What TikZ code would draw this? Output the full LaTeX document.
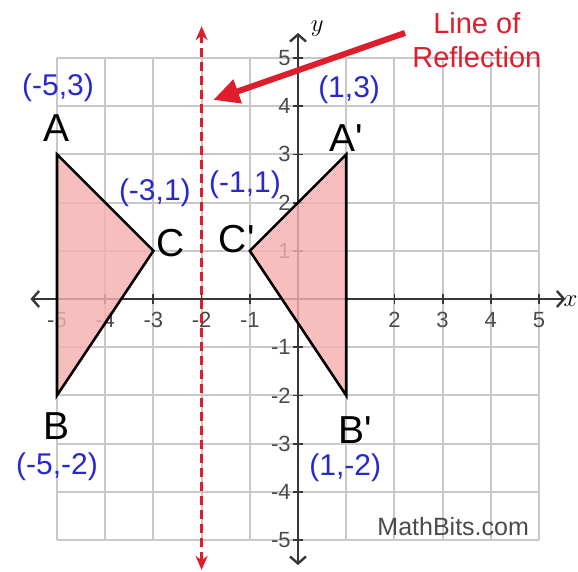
\documentclass[tikz,border=0pt]{standalone}
\usepackage{fontspec}
\setmainfont{Liberation Sans}
\usetikzlibrary{arrows.meta}
\definecolor{gridc}{RGB}{200,200,200}
\definecolor{axc}{RGB}{55,55,55}
\definecolor{ticktxt}{RGB}{75,75,75}
\definecolor{refred}{RGB}{222,30,45}
\definecolor{lblue}{RGB}{40,40,205}
\definecolor{pinkf}{RGB}{246,176,176}
\begin{document}
\begin{tikzpicture}[x=48.2pt,y=48.2pt,
  gridline/.style={gridc, line width=2pt},
  axisline/.style={axc, line width=2.4pt, {Straight Barb[length=7pt,width=16pt]}-{Straight Barb[length=7pt,width=16pt]}},
  tickmark/.style={axc, line width=1.8pt},
  ticklbl/.style={font=\fontsize{22}{22}\selectfont, text=ticktxt, inner sep=0pt},
  vlabel/.style={font=\fontsize{39}{39}\selectfont, text=black, inner sep=0pt},
  clabel/.style={font=\fontsize{30}{30}\selectfont, text=lblue, inner sep=0pt},
  triedge/.style={black, line width=2.6pt, line join=miter},
  trifill/.style={fill=pinkf, fill opacity=0.82},
  reflline/.style={refred, line width=2.6pt, dash pattern=on 9pt off 5pt, {Stealth[length=14pt,width=12pt]}-{Stealth[length=14pt,width=12pt]}},
  bigarrow/.style={refred, line width=6pt, -{Triangle[length=26pt,width=24pt]}}
]
\useasboundingbox (-298pt,-272pt) rectangle (280pt,299pt);
% grid
\draw[gridline, step={(1,1)}] (-5,-5) grid (5,5);
% tick labels
\foreach \i in {-5,-4,-3,-2,-1,2,3,4,5}
  \node[ticklbl] (xt\i) at (\i,-0.44) {\i};
\foreach \i in {-5,-4,-3,-2,-1,1,2,3,4,5}
  \node[ticklbl, anchor=east] (yt\i) at (-0.15,\i) {\i};
% axes
\coordinate (xleft) at (-5.55,0);
\coordinate (xright) at (5.55,0);
\coordinate (ybot) at (0,-5.52);
\coordinate (ytop) at (0,5.52);
\draw[axisline] (xleft) -- (xright);
\draw[axisline] (ybot) -- (ytop);
\foreach \i in {-5,...,-1,1,2,...,5} {
  \draw[tickmark] (\i,-0.1) -- (\i,0.1);
  \draw[tickmark] (-0.1,\i) -- (0.1,\i);
}
\node[font=\fontsize{30}{30}\selectfont, inner sep=0pt] (ylab) at (0.4,5.62) {$y$};
\node[font=\fontsize{30}{30}\selectfont, inner sep=0pt, anchor=east] (xlab) at (5.8,-0.05) {$x$};
% triangles
\coordinate (A) at (-5,3);
\coordinate (B) at (-5,-2);
\coordinate (C) at (-3,1);
\coordinate (Ap) at (1,3);
\coordinate (Bp) at (1,-2);
\coordinate (Cp) at (-1,1);
\fill[trifill] (A) -- (B) -- (C) -- cycle;
\fill[trifill] (Ap) -- (Bp) -- (Cp) -- cycle;
\draw[triedge] (A) -- (B) -- (C) -- cycle;
\draw[triedge] (Ap) -- (Bp) -- (Cp) -- cycle;
% line of reflection
\coordinate (rtop) at (-2,5.66);
\coordinate (rbot) at (-2,-5.62);
\draw[reflline] (rbot) -- (rtop);
\node[font=\fontsize{29}{34}\selectfont, text=refred, align=center, inner sep=0pt] (reftxt) at (3.71,5.37) {Line of\\Reflection};
\coordinate (arrstart) at (2.22,5.52);
\coordinate (arrtip) at (-1.76,4.13);
\draw[bigarrow] (arrstart) -- (arrtip);
% vertex labels
\node[clabel] (cA) at (-4.98,4.38) {(-5,3)};
\node[vlabel] (lA) at (-5.0,3.55) {A};
\node[clabel] (cC) at (-2.97,2.20) {(-3,1)};
\node[vlabel] (lC) at (-2.64,1.16) {C};
\node[clabel] (cCp) at (-1.1,2.37) {(-1,1)};
\node[vlabel] (lCp) at (-1.27,1.24) {C\textquotesingle};
\node[clabel] (cAp) at (1.06,4.34) {(1,3)};
\node[vlabel] (lAp) at (1.0,3.34) {A\textquotesingle};
\node[vlabel] (lB) at (-5.0,-2.64) {B};
\node[clabel] (cB) at (-5.0,-3.48) {(-5,-2)};
\node[vlabel] (lBp) at (1.18,-2.72) {B\textquotesingle};
\node[clabel] (cBp) at (0.98,-3.5) {(1,-2)};
\node[font=\fontsize{25}{25}\selectfont, text=ticktxt, inner sep=0pt] (mb) at (3.22,-4.73) {MathBits.com};
\end{tikzpicture}
\end{document}
